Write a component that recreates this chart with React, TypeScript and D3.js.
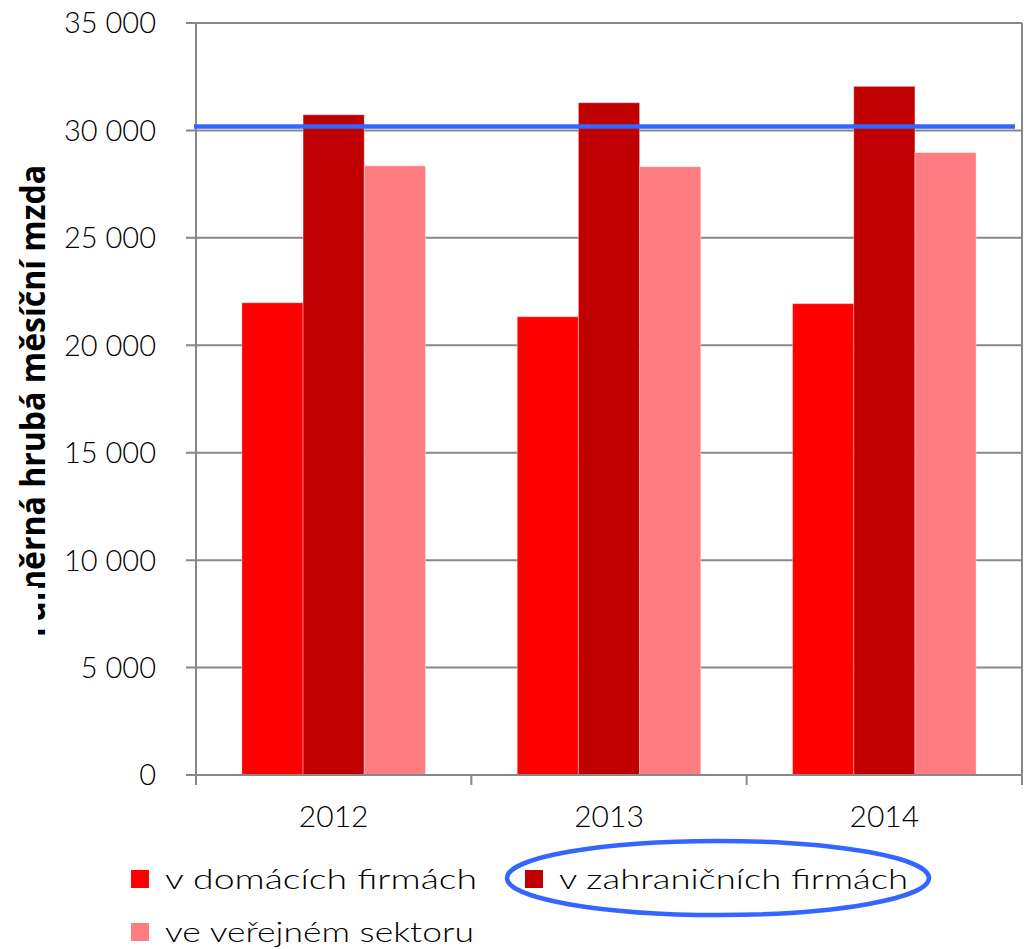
import React from 'react';
import * as d3 from 'd3';

// chart data
const years = ['2012', '2013', '2014'];
const seriesNames = ['v domácích firmách', 'v zahraničních firmách', 've veřejném sektoru'];
const domestic = [21980, 21330, 21940];
const foreign = [30730, 31290, 32050];
const publicSector = [28350, 28310, 28970];
const averageWage = 30180;
const yTicks = [0, 5000, 10000, 15000, 20000, 25000, 30000, 35000];

const colors = ['#FF0000', '#C00000', '#FF7C80'];
const blue = '#3366FF';
const gridColor = '#888888';

const W = 1031;
const H = 949;
const margin = { top: 23, right: 9, bottom: 174, left: 196 };

const fmt = (v: number) => d3.format(',')(v).replace(/,/g, ' ');

export default function App() {
  const left = margin.left;
  const right = W - margin.right;
  const top = margin.top;
  const bottom = H - margin.bottom;

  const y = d3.scaleLinear().domain([0, 35000]).range([bottom, top]);
  const x = d3.scaleBand().domain(years).range([left, right]).padding(0);
  const xs = d3.scaleBand().domain(seriesNames).range([0, x.bandwidth()]).paddingInner(0).paddingOuter(0.75);

  const values = [domestic, foreign, publicSector];
  const bars = years.flatMap((yr, i) =>
    seriesNames.map((s, j) => ({ yr, s, j, v: values[j][i] }))
  );

  const tickFont = 'Lato, "Open Sans", sans-serif';
  const boundaries = [...years.map(yr => x(yr) as number), right];

  return (
    <svg width={W} height={H} style={{ display: 'block', position: 'absolute', left: 0, top: 0 }}>
      <rect width={W} height={H} fill="#fff" />
      <defs>
        <clipPath id="ylabel-clip" clipPathUnits="userSpaceOnUse">
          <rect x={0} y={0} width={120} height={586} />
          <rect x={38} y={586} width={10} height={50} />
        </clipPath>
      </defs>

      {/* gridlines */}
      {yTicks.map(t => (
        <line key={t} x1={left - 10} x2={right} y1={y(t)} y2={y(t)} stroke={gridColor} strokeWidth={2} />
      ))}
      <line x1={right} x2={right} y1={top} y2={bottom} stroke={gridColor} strokeWidth={2} />

      {/* bars */}
      {bars.map(b => (
        <rect
          key={b.yr + b.j}
          x={(x(b.yr) as number) + (xs(b.s) as number)}
          y={y(b.v)}
          width={xs.bandwidth()}
          height={y(0) - y(b.v)}
          fill={colors[b.j]}
          stroke="rgba(255,255,255,0.35)"
          strokeWidth={1}
        />
      ))}

      {/* axes */}
      <line x1={left} x2={left} y1={top} y2={bottom + 10} stroke={gridColor} strokeWidth={2} />
      <line x1={left} x2={right} y1={bottom} y2={bottom} stroke={gridColor} strokeWidth={2} />
      {boundaries.map((bx, i) => (
        <line key={i} x1={bx} x2={bx} y1={bottom} y2={bottom + 10} stroke={gridColor} strokeWidth={2} />
      ))}

      {yTicks.map(t => (
        <text key={t} x={156} y={y(t)} dy="0.36em" textAnchor="end" fontFamily={tickFont} fontWeight={300} fontSize={29} fill="#000">
          {fmt(t)}
        </text>
      ))}
      {years.map(yr => (
        <text key={yr} x={(x(yr) as number) + x.bandwidth() / 2} y={827} textAnchor="middle" fontFamily={tickFont} fontWeight={300} fontSize={30} fill="#000">
          {yr}
        </text>
      ))}

      {/* average wage line */}
      <line x1={left - 2} x2={right - 7} y1={y(averageWage)} y2={y(averageWage)} stroke={blue} strokeWidth={4.5} />

      {/* y axis title, cut off as in the original */}
      <g clipPath="url(#ylabel-clip)">
        <text
          transform="translate(45,165) rotate(-90)"
          textAnchor="end"
          fontFamily='"Open Sans", sans-serif'
          fontWeight={700}
          fontSize={34}
          textLength={492}
          lengthAdjust="spacingAndGlyphs"
          fill="#000"
        >
          Průměrná hrubá měsíční mzda
        </text>
      </g>

      {/* legend */}
      {[
        { i: 0, x: 131, y: 870, len: 312 },
        { i: 1, x: 525, y: 870, len: 349 },
        { i: 2, x: 131, y: 923, len: 309 },
      ].map(l => (
        <g key={l.i}>
          <rect x={l.x} y={l.y} width={18} height={18} fill={colors[l.i]} />
          <text x={l.x + 34} y={l.y + 19} fontFamily={tickFont} fontWeight={300} fontSize={27} textLength={l.len} lengthAdjust="spacingAndGlyphs" fill="#000">
            {seriesNames[l.i]}
          </text>
        </g>
      ))}

      {/* highlight ellipse */}
      <ellipse cx={718} cy={878} rx={211} ry={37} fill="none" stroke={blue} strokeWidth={4.5} />
    </svg>
  );
}
